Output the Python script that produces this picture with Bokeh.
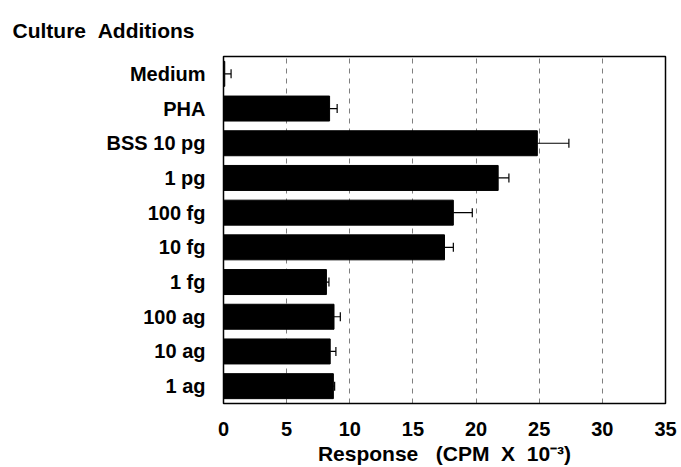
from bokeh.plotting import figure
from bokeh.models import ColumnDataSource, FactorRange, Range1d, Whisker, TeeHead, Title
from bokeh.embed import file_html
from bokeh.resources import INLINE

categories = ["Medium", "PHA", "BSS 10 pg", "1 pg", "100 fg", "10 fg", "1 fg", "100 ag", "10 ag", "1 ag"]
responses = [0.1, 8.4, 24.85, 21.75, 18.2, 17.5, 8.15, 8.75, 8.45, 8.7]
errors = [0.5, 0.6, 2.5, 0.85, 1.5, 0.7, 0.2, 0.5, 0.45, 0.1]
x_ticks = [0, 5, 10, 15, 20, 25, 30, 35]

FONT = "Liberation Sans"
NB = "\u00a0"

src = ColumnDataSource(dict(
    cat=categories,
    val=responses,
    upper=[v + e for v, e in zip(responses, errors)],
))

p = figure(
    width=681, height=467,
    y_range=FactorRange(*list(reversed(categories)), range_padding=0),
    x_range=Range1d(0, 35),
    output_backend="svg", toolbar_location=None,
    min_border_left=223, min_border_top=56, min_border_right=16, min_border_bottom=64,
)

p.hbar(y="cat", left=0, right="val", height=0.72, source=src,
       fill_color="black", line_color="black")

w = Whisker(source=src, base="cat", lower="val", upper="upper", dimension="width",
            line_color="black", line_width=1.2,
            upper_head=TeeHead(size=9, line_color="black", line_width=1.2),
            lower_head=None)
p.add_layout(w)

p.outline_line_color = "black"
p.outline_line_width = 1.5

p.xgrid.ticker = x_ticks
p.xgrid.grid_line_color = "black"
p.xgrid.grid_line_dash = "5 5"
p.xgrid.grid_line_width = 1
p.xgrid.grid_line_alpha = 0.5
p.ygrid.grid_line_color = None

p.xaxis.ticker = x_ticks
p.xaxis.axis_line_color = None
p.xaxis.major_tick_line_color = None
p.xaxis.minor_tick_line_color = None
p.xaxis.major_label_standoff = 12
p.xaxis.major_label_text_font = FONT
p.xaxis.major_label_text_font_size = "20px"
p.xaxis.major_label_text_font_style = "bold"
p.xaxis.major_label_text_color = "black"
p.xaxis.axis_label = ("Response" + NB * 3 + "(CPM" + NB * 2 + "X" + NB * 2
                      + "10\u207b\u00b3)")
p.xaxis.axis_label_text_font = FONT
p.xaxis.axis_label_text_font_size = "21px"
p.xaxis.axis_label_text_font_style = "bold"
p.xaxis.axis_label_text_color = "black"
p.xaxis.axis_label_standoff = 3

p.yaxis.axis_line_color = None
p.yaxis.major_tick_line_color = None
p.yaxis.minor_tick_line_color = None
p.yaxis.major_label_standoff = 12
p.yaxis.major_label_text_font = FONT
p.yaxis.major_label_text_font_size = "20px"
p.yaxis.major_label_text_font_style = "bold"
p.yaxis.major_label_text_color = "black"

t = Title(text="Culture" + NB * 2 + "Additions", align="left", offset=-211, standoff=29,
          text_font=FONT, text_font_size="21px", text_font_style="bold",
          text_color="black")
p.add_layout(t, "above")

open("out.html", "w").write(file_html(p, INLINE))
